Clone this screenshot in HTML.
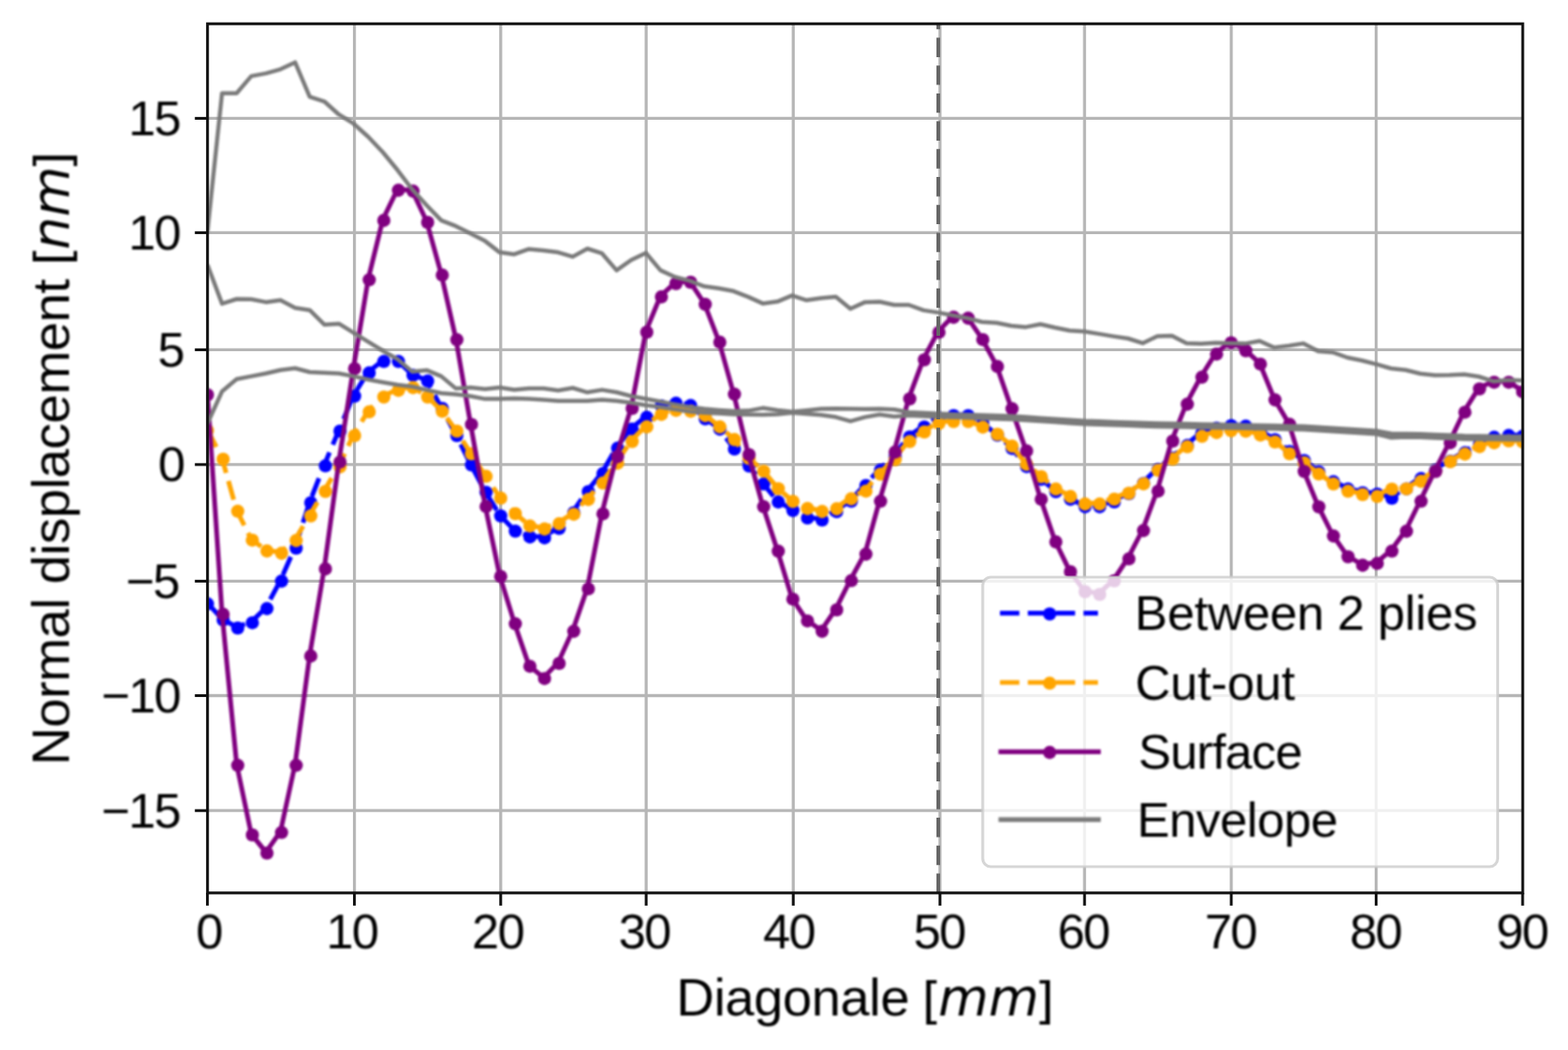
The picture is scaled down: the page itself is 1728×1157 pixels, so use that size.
<!DOCTYPE html>
<html lang="en"><head><meta charset="utf-8"><title>Normal displacement vs Diagonale</title>
<style>html,body{margin:0;padding:0;background:#fff;}body{width:1728px;height:1157px;overflow:hidden;}svg{display:block;}text{font-family:"Liberation Sans",Arial,Helvetica,sans-serif;fill:#000;}</style></head><body>
<svg width="1728" height="1157" viewBox="0 0 1728 1157" role="img" aria-label="Normal displacement versus diagonal position">
<defs><clipPath id="ax"><rect x="228.7" y="26.2" width="1449.4" height="957.7"/></clipPath><filter id="fData" x="220" y="18" width="1468" height="974" filterUnits="userSpaceOnUse" color-interpolation-filters="sRGB"><feGaussianBlur stdDeviation="1"/></filter><filter id="fXt" x="200" y="996" width="1528" height="62" filterUnits="userSpaceOnUse" color-interpolation-filters="sRGB"><feGaussianBlur stdDeviation="1"/></filter><filter id="fYt" x="100" y="96" width="110" height="832" filterUnits="userSpaceOnUse" color-interpolation-filters="sRGB"><feGaussianBlur stdDeviation="1"/></filter><filter id="fXl" x="730" y="1064" width="450" height="84" filterUnits="userSpaceOnUse" color-interpolation-filters="sRGB"><feGaussianBlur stdDeviation="1"/></filter><filter id="fYl" x="20" y="150" width="80" height="710" filterUnits="userSpaceOnUse" color-interpolation-filters="sRGB"><feGaussianBlur stdDeviation="1"/></filter><filter id="fLeg" x="1090" y="642" width="556" height="308" filterUnits="userSpaceOnUse" color-interpolation-filters="sRGB"><feGaussianBlur stdDeviation="1"/></filter></defs>
<rect x="0" y="0" width="1728" height="1157" fill="#fff"/>
<g stroke="#b6b6b6" stroke-width="3.3" fill="none">
<line x1="390.6" y1="26.2" x2="390.6" y2="983.9"/>
<line x1="551.8" y1="26.2" x2="551.8" y2="983.9"/>
<line x1="712.1" y1="26.2" x2="712.1" y2="983.9"/>
<line x1="874.2" y1="26.2" x2="874.2" y2="983.9"/>
<line x1="1035.9" y1="26.2" x2="1035.9" y2="983.9"/>
<line x1="1195.2" y1="26.2" x2="1195.2" y2="983.9"/>
<line x1="1356.9" y1="26.2" x2="1356.9" y2="983.9"/>
<line x1="1516.6" y1="26.2" x2="1516.6" y2="983.9"/>
<line x1="228.7" y1="130.4" x2="1678.1" y2="130.4"/>
<line x1="228.7" y1="256.4" x2="1678.1" y2="256.4"/>
<line x1="228.7" y1="385.4" x2="1678.1" y2="385.4"/>
<line x1="228.7" y1="511.9" x2="1678.1" y2="511.9"/>
<line x1="228.7" y1="640.4" x2="1678.1" y2="640.4"/>
<line x1="228.7" y1="766.5" x2="1678.1" y2="766.5"/>
<line x1="228.7" y1="893.2" x2="1678.1" y2="893.2"/>
</g>
<g filter="url(#fData)"><g clip-path="url(#ax)" fill="none" stroke-linejoin="round">
<polyline points="228.6,664.4 244.7,682.0 260.8,691.0 276.9,685.2 293.0,669.6 309.1,639.4 325.2,603.0 341.3,553.0 357.4,512.3 373.5,474.0 389.6,435.5 405.8,409.8 421.9,397.3 438.0,397.3 454.1,412.5 470.2,418.8 486.3,449.0 502.4,479.0 518.5,511.3 534.6,541.5 550.7,567.5 566.8,584.3 582.9,590.7 599.0,591.7 615.1,581.3 631.2,564.0 647.3,540.7 663.4,520.9 679.5,492.8 695.6,471.9 711.8,458.9 727.9,446.4 744.0,443.3 760.1,445.8 776.2,460.5 792.3,471.9 808.4,493.8 824.5,512.5 840.6,532.3 856.7,552.1 872.8,561.5 888.9,569.8 905.0,572.0 921.1,562.8 937.2,551.3 953.3,534.0 969.4,517.0 985.5,502.0 1001.6,480.5 1017.7,469.5 1033.8,459.6 1050.0,457.0 1066.1,457.0 1082.2,465.7 1098.3,478.5 1114.4,493.1 1130.5,513.2 1146.6,527.2 1162.7,540.8 1178.8,549.1 1194.9,557.4 1211.0,557.4 1227.1,552.0 1243.2,543.0 1259.3,531.7 1275.4,516.3 1291.5,503.8 1307.6,489.8 1323.7,476.3 1339.8,470.7 1356.0,468.0 1372.1,468.6 1388.2,474.4 1404.3,483.5 1420.4,496.5 1436.5,506.5 1452.6,518.8 1468.7,529.8 1484.8,537.8 1500.9,542.0 1517.0,543.5 1533.1,548.0 1549.2,537.7 1565.3,526.4 1581.4,517.0 1597.5,507.2 1613.6,497.9 1629.7,488.1 1645.8,480.9 1661.9,478.8 1678.0,479.9" stroke="#0000ff" stroke-width="5.2" stroke-dasharray="21.4 9.3"/>
<g fill="#0000ff"><circle cx="228.6" cy="665.4" r="7.3"/><circle cx="245.9" cy="683.0" r="7.3"/><circle cx="262.0" cy="692.0" r="7.3"/><circle cx="278.1" cy="686.2" r="7.3"/><circle cx="294.2" cy="670.6" r="7.3"/><circle cx="310.3" cy="640.4" r="7.3"/><circle cx="326.4" cy="604.0" r="7.3"/><circle cx="342.5" cy="554.0" r="7.3"/><circle cx="358.6" cy="513.3" r="7.3"/><circle cx="374.7" cy="475.0" r="7.3"/><circle cx="390.8" cy="436.5" r="7.3"/><circle cx="406.9" cy="410.8" r="7.3"/><circle cx="423.0" cy="398.3" r="7.3"/><circle cx="439.1" cy="398.3" r="7.3"/><circle cx="455.2" cy="413.5" r="7.3"/><circle cx="471.3" cy="419.8" r="7.3"/><circle cx="487.4" cy="450.0" r="7.3"/><circle cx="503.5" cy="480.0" r="7.3"/><circle cx="519.6" cy="512.3" r="7.3"/><circle cx="535.7" cy="542.5" r="7.3"/><circle cx="551.8" cy="568.5" r="7.3"/><circle cx="567.9" cy="585.3" r="7.3"/><circle cx="584.0" cy="591.7" r="7.3"/><circle cx="600.1" cy="592.7" r="7.3"/><circle cx="616.2" cy="582.3" r="7.3"/><circle cx="632.3" cy="565.0" r="7.3"/><circle cx="648.4" cy="541.7" r="7.3"/><circle cx="664.5" cy="521.9" r="7.3"/><circle cx="680.6" cy="493.8" r="7.3"/><circle cx="696.7" cy="472.9" r="7.3"/><circle cx="712.8" cy="459.9" r="7.3"/><circle cx="728.9" cy="447.4" r="7.3"/><circle cx="745.0" cy="444.3" r="7.3"/><circle cx="761.1" cy="446.8" r="7.3"/><circle cx="777.2" cy="461.5" r="7.3"/><circle cx="793.3" cy="472.9" r="7.3"/><circle cx="809.4" cy="494.8" r="7.3"/><circle cx="825.5" cy="513.5" r="7.3"/><circle cx="841.6" cy="533.3" r="7.3"/><circle cx="857.7" cy="553.1" r="7.3"/><circle cx="873.8" cy="562.5" r="7.3"/><circle cx="889.9" cy="570.8" r="7.3"/><circle cx="906.0" cy="573.0" r="7.3"/><circle cx="922.1" cy="563.8" r="7.3"/><circle cx="938.2" cy="552.3" r="7.3"/><circle cx="954.3" cy="535.0" r="7.3"/><circle cx="970.4" cy="518.0" r="7.3"/><circle cx="986.5" cy="503.0" r="7.3"/><circle cx="1002.6" cy="481.5" r="7.3"/><circle cx="1018.7" cy="470.5" r="7.3"/><circle cx="1034.8" cy="460.6" r="7.3"/><circle cx="1050.9" cy="458.0" r="7.3"/><circle cx="1067.0" cy="458.0" r="7.3"/><circle cx="1083.1" cy="466.7" r="7.3"/><circle cx="1099.2" cy="479.5" r="7.3"/><circle cx="1115.3" cy="494.1" r="7.3"/><circle cx="1131.4" cy="514.2" r="7.3"/><circle cx="1147.5" cy="528.2" r="7.3"/><circle cx="1163.6" cy="541.8" r="7.3"/><circle cx="1179.7" cy="550.1" r="7.3"/><circle cx="1195.8" cy="558.4" r="7.3"/><circle cx="1211.9" cy="558.4" r="7.3"/><circle cx="1228.0" cy="553.0" r="7.3"/><circle cx="1244.1" cy="544.0" r="7.3"/><circle cx="1260.2" cy="532.7" r="7.3"/><circle cx="1276.3" cy="517.3" r="7.3"/><circle cx="1292.4" cy="504.8" r="7.3"/><circle cx="1308.5" cy="490.8" r="7.3"/><circle cx="1324.6" cy="477.3" r="7.3"/><circle cx="1340.7" cy="471.7" r="7.3"/><circle cx="1356.8" cy="469.0" r="7.3"/><circle cx="1372.9" cy="469.6" r="7.3"/><circle cx="1389.0" cy="475.4" r="7.3"/><circle cx="1405.1" cy="484.5" r="7.3"/><circle cx="1421.2" cy="497.5" r="7.3"/><circle cx="1437.3" cy="507.5" r="7.3"/><circle cx="1453.4" cy="519.8" r="7.3"/><circle cx="1469.5" cy="530.8" r="7.3"/><circle cx="1485.6" cy="538.8" r="7.3"/><circle cx="1501.7" cy="543.0" r="7.3"/><circle cx="1517.8" cy="544.5" r="7.3"/><circle cx="1533.9" cy="549.0" r="7.3"/><circle cx="1550.0" cy="538.7" r="7.3"/><circle cx="1566.1" cy="527.4" r="7.3"/><circle cx="1582.2" cy="518.0" r="7.3"/><circle cx="1598.3" cy="508.2" r="7.3"/><circle cx="1614.4" cy="498.9" r="7.3"/><circle cx="1630.5" cy="489.1" r="7.3"/><circle cx="1646.6" cy="481.9" r="7.3"/><circle cx="1662.7" cy="479.8" r="7.3"/><circle cx="1678.0" cy="480.9" r="7.3"/></g>
<polyline points="228.6,473.5 244.7,505.0 260.8,562.3 276.9,594.2 293.0,606.1 309.1,608.6 325.2,594.6 341.3,567.5 357.4,540.5 373.5,513.4 389.6,479.0 405.8,452.8 421.9,436.5 438.0,429.2 454.1,426.1 470.2,436.5 486.3,452.1 502.4,474.0 518.5,499.0 534.6,523.8 550.7,547.8 566.8,565.0 582.9,578.6 599.0,581.9 615.1,576.1 631.2,565.7 647.3,549.4 663.4,531.3 679.5,509.4 695.6,485.5 711.8,469.4 727.9,455.7 744.0,451.1 760.1,452.1 776.2,456.9 792.3,469.4 808.4,483.4 824.5,504.2 840.6,518.2 856.7,537.5 872.8,551.5 888.9,559.4 905.0,562.6 921.1,559.6 937.2,548.6 953.3,540.2 969.4,521.5 985.5,505.5 1001.6,485.5 1017.7,475.0 1033.8,465.6 1050.0,463.5 1066.1,463.5 1082.2,469.7 1098.3,477.5 1114.4,490.6 1130.5,510.7 1146.6,524.2 1162.7,537.8 1178.8,546.1 1194.9,554.4 1211.0,554.4 1227.1,549.0 1243.2,542.5 1259.3,532.2 1275.4,517.3 1291.5,504.8 1307.6,491.3 1323.7,479.8 1339.8,475.7 1356.0,473.6 1372.1,474.2 1388.2,478.4 1404.3,486.0 1420.4,499.0 1436.5,509.0 1452.6,521.3 1468.7,532.3 1484.8,540.3 1500.9,544.0 1517.0,546.0 1533.1,538.0 1549.2,537.7 1565.3,529.4 1581.4,518.0 1597.5,507.8 1613.6,499.4 1629.7,491.1 1645.8,486.9 1661.9,484.8 1678.0,485.9" stroke="#ffa500" stroke-width="5.2" stroke-dasharray="21.4 9.3"/>
<g fill="#ffa500"><circle cx="228.6" cy="474.5" r="7.3"/><circle cx="245.9" cy="506.0" r="7.3"/><circle cx="262.0" cy="563.3" r="7.3"/><circle cx="278.1" cy="595.2" r="7.3"/><circle cx="294.2" cy="607.1" r="7.3"/><circle cx="310.3" cy="609.6" r="7.3"/><circle cx="326.4" cy="595.6" r="7.3"/><circle cx="342.5" cy="568.5" r="7.3"/><circle cx="358.6" cy="541.5" r="7.3"/><circle cx="374.7" cy="514.4" r="7.3"/><circle cx="390.8" cy="480.0" r="7.3"/><circle cx="406.9" cy="453.8" r="7.3"/><circle cx="423.0" cy="437.5" r="7.3"/><circle cx="439.1" cy="430.2" r="7.3"/><circle cx="455.2" cy="427.1" r="7.3"/><circle cx="471.3" cy="437.5" r="7.3"/><circle cx="487.4" cy="453.1" r="7.3"/><circle cx="503.5" cy="475.0" r="7.3"/><circle cx="519.6" cy="500.0" r="7.3"/><circle cx="535.7" cy="524.8" r="7.3"/><circle cx="551.8" cy="548.8" r="7.3"/><circle cx="567.9" cy="566.0" r="7.3"/><circle cx="584.0" cy="579.6" r="7.3"/><circle cx="600.1" cy="582.9" r="7.3"/><circle cx="616.2" cy="577.1" r="7.3"/><circle cx="632.3" cy="566.7" r="7.3"/><circle cx="648.4" cy="550.4" r="7.3"/><circle cx="664.5" cy="532.3" r="7.3"/><circle cx="680.6" cy="510.4" r="7.3"/><circle cx="696.7" cy="486.5" r="7.3"/><circle cx="712.8" cy="470.4" r="7.3"/><circle cx="728.9" cy="456.7" r="7.3"/><circle cx="745.0" cy="452.1" r="7.3"/><circle cx="761.1" cy="453.1" r="7.3"/><circle cx="777.2" cy="457.9" r="7.3"/><circle cx="793.3" cy="470.4" r="7.3"/><circle cx="809.4" cy="484.4" r="7.3"/><circle cx="825.5" cy="505.2" r="7.3"/><circle cx="841.6" cy="519.2" r="7.3"/><circle cx="857.7" cy="538.5" r="7.3"/><circle cx="873.8" cy="552.5" r="7.3"/><circle cx="889.9" cy="560.4" r="7.3"/><circle cx="906.0" cy="563.6" r="7.3"/><circle cx="922.1" cy="560.6" r="7.3"/><circle cx="938.2" cy="549.6" r="7.3"/><circle cx="954.3" cy="541.2" r="7.3"/><circle cx="970.4" cy="522.5" r="7.3"/><circle cx="986.5" cy="506.5" r="7.3"/><circle cx="1002.6" cy="486.5" r="7.3"/><circle cx="1018.7" cy="476.0" r="7.3"/><circle cx="1034.8" cy="466.6" r="7.3"/><circle cx="1050.9" cy="464.5" r="7.3"/><circle cx="1067.0" cy="464.5" r="7.3"/><circle cx="1083.1" cy="470.7" r="7.3"/><circle cx="1099.2" cy="478.5" r="7.3"/><circle cx="1115.3" cy="491.6" r="7.3"/><circle cx="1131.4" cy="511.7" r="7.3"/><circle cx="1147.5" cy="525.2" r="7.3"/><circle cx="1163.6" cy="538.8" r="7.3"/><circle cx="1179.7" cy="547.1" r="7.3"/><circle cx="1195.8" cy="555.4" r="7.3"/><circle cx="1211.9" cy="555.4" r="7.3"/><circle cx="1228.0" cy="550.0" r="7.3"/><circle cx="1244.1" cy="543.5" r="7.3"/><circle cx="1260.2" cy="533.2" r="7.3"/><circle cx="1276.3" cy="518.3" r="7.3"/><circle cx="1292.4" cy="505.8" r="7.3"/><circle cx="1308.5" cy="492.3" r="7.3"/><circle cx="1324.6" cy="480.8" r="7.3"/><circle cx="1340.7" cy="476.7" r="7.3"/><circle cx="1356.8" cy="474.6" r="7.3"/><circle cx="1372.9" cy="475.2" r="7.3"/><circle cx="1389.0" cy="479.4" r="7.3"/><circle cx="1405.1" cy="487.0" r="7.3"/><circle cx="1421.2" cy="500.0" r="7.3"/><circle cx="1437.3" cy="510.0" r="7.3"/><circle cx="1453.4" cy="522.3" r="7.3"/><circle cx="1469.5" cy="533.3" r="7.3"/><circle cx="1485.6" cy="541.3" r="7.3"/><circle cx="1501.7" cy="545.0" r="7.3"/><circle cx="1517.8" cy="547.0" r="7.3"/><circle cx="1533.9" cy="539.0" r="7.3"/><circle cx="1550.0" cy="538.7" r="7.3"/><circle cx="1566.1" cy="530.4" r="7.3"/><circle cx="1582.2" cy="519.0" r="7.3"/><circle cx="1598.3" cy="508.8" r="7.3"/><circle cx="1614.4" cy="500.4" r="7.3"/><circle cx="1630.5" cy="492.1" r="7.3"/><circle cx="1646.6" cy="487.9" r="7.3"/><circle cx="1662.7" cy="485.8" r="7.3"/><circle cx="1678.0" cy="486.9" r="7.3"/></g>
<polyline points="228.6,434.0 244.7,675.9 260.8,842.3 276.9,919.0 293.0,939.0 309.1,916.3 325.2,842.3 341.3,721.9 357.4,625.9 373.5,508.2 389.6,405.2 405.8,307.3 421.9,241.9 438.0,208.6 454.1,209.6 470.2,244.0 486.3,302.1 502.4,373.4 518.5,466.7 534.6,557.1 550.7,634.2 566.8,686.3 582.9,733.2 599.0,746.7 615.1,730.0 631.2,694.6 647.3,647.8 663.4,565.2 679.5,502.1 695.6,449.0 711.8,365.0 727.9,326.1 744.0,311.5 760.1,310.0 776.2,334.4 792.3,376.1 808.4,433.4 824.5,500.0 840.6,557.3 856.7,606.4 872.8,659.2 888.9,683.2 905.0,694.6 921.1,671.0 937.2,638.8 953.3,609.6 969.4,551.3 985.5,497.1 1001.6,438.5 1017.7,395.5 1033.8,365.2 1050.0,348.6 1066.1,349.6 1082.2,373.2 1098.3,402.8 1114.4,449.4 1130.5,495.8 1146.6,549.2 1162.7,596.1 1178.8,629.0 1194.9,651.0 1211.0,654.0 1227.1,639.0 1243.2,614.8 1259.3,583.6 1275.4,540.2 1291.5,485.0 1307.6,444.4 1323.7,414.6 1339.8,389.2 1356.0,376.7 1372.1,385.5 1388.2,400.2 1404.3,439.6 1420.4,466.6 1436.5,518.5 1452.6,557.5 1468.7,589.6 1484.8,612.5 1500.9,621.9 1517.0,619.8 1533.1,606.3 1549.2,584.4 1565.3,551.3 1581.4,518.5 1597.5,486.9 1613.6,453.2 1629.7,427.5 1645.8,420.2 1661.9,420.2 1678.0,430.7" stroke="#800080" stroke-width="5.2"/>
<g fill="#800080"><circle cx="228.6" cy="435.0" r="7.3"/><circle cx="245.9" cy="676.9" r="7.3"/><circle cx="262.0" cy="843.3" r="7.3"/><circle cx="278.1" cy="920.0" r="7.3"/><circle cx="294.2" cy="940.0" r="7.3"/><circle cx="310.3" cy="917.3" r="7.3"/><circle cx="326.4" cy="843.3" r="7.3"/><circle cx="342.5" cy="722.9" r="7.3"/><circle cx="358.6" cy="626.9" r="7.3"/><circle cx="374.7" cy="509.2" r="7.3"/><circle cx="390.8" cy="406.2" r="7.3"/><circle cx="406.9" cy="308.3" r="7.3"/><circle cx="423.0" cy="242.9" r="7.3"/><circle cx="439.1" cy="209.6" r="7.3"/><circle cx="455.2" cy="210.6" r="7.3"/><circle cx="471.3" cy="245.0" r="7.3"/><circle cx="487.4" cy="303.1" r="7.3"/><circle cx="503.5" cy="374.4" r="7.3"/><circle cx="519.6" cy="467.7" r="7.3"/><circle cx="535.7" cy="558.1" r="7.3"/><circle cx="551.8" cy="635.2" r="7.3"/><circle cx="567.9" cy="687.3" r="7.3"/><circle cx="584.0" cy="734.2" r="7.3"/><circle cx="600.1" cy="747.7" r="7.3"/><circle cx="616.2" cy="731.0" r="7.3"/><circle cx="632.3" cy="695.6" r="7.3"/><circle cx="648.4" cy="648.8" r="7.3"/><circle cx="664.5" cy="566.2" r="7.3"/><circle cx="680.6" cy="503.1" r="7.3"/><circle cx="696.7" cy="450.0" r="7.3"/><circle cx="712.8" cy="366.0" r="7.3"/><circle cx="728.9" cy="327.1" r="7.3"/><circle cx="745.0" cy="312.5" r="7.3"/><circle cx="761.1" cy="311.0" r="7.3"/><circle cx="777.2" cy="335.4" r="7.3"/><circle cx="793.3" cy="377.1" r="7.3"/><circle cx="809.4" cy="434.4" r="7.3"/><circle cx="825.5" cy="501.0" r="7.3"/><circle cx="841.6" cy="558.3" r="7.3"/><circle cx="857.7" cy="607.4" r="7.3"/><circle cx="873.8" cy="660.2" r="7.3"/><circle cx="889.9" cy="684.2" r="7.3"/><circle cx="906.0" cy="695.6" r="7.3"/><circle cx="922.1" cy="672.0" r="7.3"/><circle cx="938.2" cy="639.8" r="7.3"/><circle cx="954.3" cy="610.6" r="7.3"/><circle cx="970.4" cy="552.3" r="7.3"/><circle cx="986.5" cy="498.1" r="7.3"/><circle cx="1002.6" cy="439.5" r="7.3"/><circle cx="1018.7" cy="396.5" r="7.3"/><circle cx="1034.8" cy="366.2" r="7.3"/><circle cx="1050.9" cy="349.6" r="7.3"/><circle cx="1067.0" cy="350.6" r="7.3"/><circle cx="1083.1" cy="374.2" r="7.3"/><circle cx="1099.2" cy="403.8" r="7.3"/><circle cx="1115.3" cy="450.4" r="7.3"/><circle cx="1131.4" cy="496.8" r="7.3"/><circle cx="1147.5" cy="550.2" r="7.3"/><circle cx="1163.6" cy="597.1" r="7.3"/><circle cx="1179.7" cy="630.0" r="7.3"/><circle cx="1195.8" cy="652.0" r="7.3"/><circle cx="1211.9" cy="655.0" r="7.3"/><circle cx="1228.0" cy="640.0" r="7.3"/><circle cx="1244.1" cy="615.8" r="7.3"/><circle cx="1260.2" cy="584.6" r="7.3"/><circle cx="1276.3" cy="541.2" r="7.3"/><circle cx="1292.4" cy="486.0" r="7.3"/><circle cx="1308.5" cy="445.4" r="7.3"/><circle cx="1324.6" cy="415.6" r="7.3"/><circle cx="1340.7" cy="390.2" r="7.3"/><circle cx="1356.8" cy="377.7" r="7.3"/><circle cx="1372.9" cy="386.5" r="7.3"/><circle cx="1389.0" cy="401.2" r="7.3"/><circle cx="1405.1" cy="440.6" r="7.3"/><circle cx="1421.2" cy="467.6" r="7.3"/><circle cx="1437.3" cy="519.5" r="7.3"/><circle cx="1453.4" cy="558.5" r="7.3"/><circle cx="1469.5" cy="590.6" r="7.3"/><circle cx="1485.6" cy="613.5" r="7.3"/><circle cx="1501.7" cy="622.9" r="7.3"/><circle cx="1517.8" cy="620.8" r="7.3"/><circle cx="1533.9" cy="607.3" r="7.3"/><circle cx="1550.0" cy="585.4" r="7.3"/><circle cx="1566.1" cy="552.3" r="7.3"/><circle cx="1582.2" cy="519.5" r="7.3"/><circle cx="1598.3" cy="487.9" r="7.3"/><circle cx="1614.4" cy="454.2" r="7.3"/><circle cx="1630.5" cy="428.5" r="7.3"/><circle cx="1646.6" cy="421.2" r="7.3"/><circle cx="1662.7" cy="421.2" r="7.3"/><circle cx="1678.0" cy="431.7" r="7.3"/></g>
<polyline points="228.6,255.0 244.7,102.7 260.8,102.8 276.9,83.9 293.0,80.9 309.1,76.3 325.2,68.7 341.3,106.6 357.4,111.8 373.5,126.2 389.6,136.2 405.8,150.7 421.9,167.7 438.0,187.3 454.1,208.5 470.2,226.2 486.3,242.9 502.4,249.2 518.5,257.2 534.6,265.6 550.7,278.1 566.8,280.2 582.9,274.4 599.0,276.0 615.1,278.1 631.2,282.9 647.3,274.0 663.4,279.2 679.5,297.9 695.6,286.5 711.8,278.8 727.9,297.9 744.0,305.2 760.1,309.4 776.2,315.6 792.3,317.7 808.4,320.8 824.5,327.1 840.6,334.4 856.7,332.3 872.8,325.6 888.9,330.8 905.0,328.4 921.1,327.1 937.2,340.2 953.3,332.9 969.4,332.5 985.5,336.0 1001.6,336.0 1017.7,341.9 1033.8,344.4 1050.0,347.5 1066.1,350.6 1082.2,354.8 1098.3,355.8 1114.4,359.0 1130.5,360.4 1146.6,357.3 1162.7,361.0 1178.8,364.2 1194.9,365.2 1211.0,367.9 1227.1,370.6 1243.2,373.0 1259.3,378.2 1275.4,370.4 1291.5,370.0 1307.6,378.3 1323.7,378.8 1339.8,377.7 1356.0,378.3 1372.1,378.6 1388.2,375.7 1404.3,383.1 1420.4,381.0 1436.5,378.4 1452.6,387.0 1468.7,388.2 1484.8,394.0 1500.9,397.2 1517.0,401.4 1533.1,406.0 1549.2,407.8 1565.3,411.7 1581.4,413.5 1597.5,413.3 1613.6,412.5 1629.7,415.0 1645.8,420.2 1661.9,418.8 1678.0,419.2" stroke="#7a7a7a" stroke-width="4.5"/>
<polyline points="228.6,291.7 244.7,334.6 260.8,329.5 276.9,329.8 293.0,332.9 309.1,330.8 325.2,339.2 341.3,341.7 357.4,357.7 373.5,356.7 389.6,366.7 405.8,376.7 421.9,386.5 438.0,395.8 454.1,409.4 470.2,407.9 486.3,414.6 502.4,428.1 518.5,427.1 534.6,428.8 550.7,427.0 566.8,429.5 582.9,428.1 599.0,428.1 615.1,430.2 631.2,427.5 647.3,432.3 663.4,429.6 679.5,432.3 695.6,436.5 711.8,439.5 727.9,442.5 744.0,445.6 760.1,448.4 776.2,450.6 792.3,451.9 808.4,453.0 824.5,452.6 840.6,449.6 856.7,451.9 872.8,453.8 888.9,452.2 905.0,450.6 921.1,450.3 937.2,450.6 953.3,450.8 969.4,450.6 985.5,451.2 1001.6,454.3 1017.7,455.1 1033.8,455.8 1050.0,456.4 1066.1,456.9 1082.2,457.5 1098.3,458.0 1114.4,458.6 1130.5,459.6 1146.6,460.7 1162.7,461.7 1178.8,462.8 1194.9,463.8 1211.0,464.3 1227.1,464.9 1243.2,465.4 1259.3,466.0 1275.4,466.5 1291.5,466.8 1307.6,467.1 1323.7,467.5 1339.8,467.8 1356.0,468.1 1372.1,468.4 1388.2,468.8 1404.3,469.1 1420.4,469.5 1436.5,469.8 1452.6,470.8 1468.7,471.8 1484.8,472.8 1500.9,473.8 1517.0,474.8 1533.1,477.8 1549.2,478.1 1565.3,478.3 1581.4,479.0 1597.5,479.6 1613.6,480.3 1629.7,480.5 1645.8,480.7 1661.9,480.9 1678.0,481.1" stroke="#7a7a7a" stroke-width="4.5"/>
<polyline points="228.6,466.7 244.7,431.2 260.8,417.7 276.9,414.6 293.0,411.5 309.1,407.7 325.2,405.8 341.3,410.0 357.4,410.8 373.5,411.5 389.6,414.6 405.8,418.3 421.9,421.2 438.0,424.0 454.1,426.0 470.2,429.6 486.3,433.3 502.4,434.4 518.5,436.5 534.6,439.6 550.7,439.6 566.8,439.0 582.9,439.6 599.0,440.6 615.1,441.7 631.2,441.7 647.3,441.7 663.4,440.6 679.5,441.7 695.6,443.8 711.8,446.5 727.9,448.5 744.0,451.0 760.1,453.5 776.2,454.7 792.3,455.4 808.4,456.5 824.5,456.8 840.6,457.0 856.7,456.4 872.8,454.7 888.9,456.1 905.0,457.2 921.1,459.6 937.2,464.2 953.3,459.6 969.4,456.8 985.5,458.9 1001.6,457.7 1017.7,458.4 1033.8,459.2 1050.0,459.8 1066.1,460.3 1082.2,460.9 1098.3,461.4 1114.4,462.0 1130.5,463.0 1146.6,464.1 1162.7,465.1 1178.8,466.2 1194.9,467.2 1211.0,467.7 1227.1,468.3 1243.2,468.8 1259.3,469.4 1275.4,469.9 1291.5,470.2 1307.6,470.5 1323.7,470.9 1339.8,471.2 1356.0,471.5 1372.1,471.8 1388.2,472.2 1404.3,472.5 1420.4,472.9 1436.5,473.2 1452.6,474.2 1468.7,475.2 1484.8,476.2 1500.9,477.2 1517.0,478.2 1533.1,482.2 1549.2,481.4 1565.3,481.7 1581.4,482.4 1597.5,483.0 1613.6,483.7 1629.7,483.9 1645.8,484.1 1661.9,484.3 1678.0,484.5" stroke="#7a7a7a" stroke-width="4.5"/>
</g></g>
<line x1="1034" y1="983.9" x2="1034" y2="26.2" stroke="#666666" stroke-width="4.0" stroke-dasharray="21.4 9.3"/>
<rect x="228.7" y="26.2" width="1449.4" height="957.7" fill="none" stroke="#111111" stroke-width="3.1"/>
<g stroke="#111111" stroke-width="3.1">
<line x1="228.6" y1="983.9" x2="228.6" y2="997.9"/>
<line x1="390.6" y1="983.9" x2="390.6" y2="997.9"/>
<line x1="551.8" y1="983.9" x2="551.8" y2="997.9"/>
<line x1="712.1" y1="983.9" x2="712.1" y2="997.9"/>
<line x1="874.2" y1="983.9" x2="874.2" y2="997.9"/>
<line x1="1035.9" y1="983.9" x2="1035.9" y2="997.9"/>
<line x1="1195.2" y1="983.9" x2="1195.2" y2="997.9"/>
<line x1="1356.9" y1="983.9" x2="1356.9" y2="997.9"/>
<line x1="1516.6" y1="983.9" x2="1516.6" y2="997.9"/>
<line x1="1678.0" y1="983.9" x2="1678.0" y2="997.9"/>
<line x1="228.7" y1="130.4" x2="214.7" y2="130.4"/>
<line x1="228.7" y1="256.4" x2="214.7" y2="256.4"/>
<line x1="228.7" y1="385.4" x2="214.7" y2="385.4"/>
<line x1="228.7" y1="511.9" x2="214.7" y2="511.9"/>
<line x1="228.7" y1="640.4" x2="214.7" y2="640.4"/>
<line x1="228.7" y1="766.5" x2="214.7" y2="766.5"/>
<line x1="228.7" y1="893.2" x2="214.7" y2="893.2"/>
</g>
<g filter="url(#fXt)" font-size="54.1px" letter-spacing="-1.8">
<text transform="translate(230.1,1044.7) scale(1.0,1.0)" text-anchor="middle">0</text>
<text transform="translate(387.7,1044.7) scale(1.0,1.0)" text-anchor="middle">10</text>
<text transform="translate(548.4,1044.7) scale(1.0,1.0)" text-anchor="middle">20</text>
<text transform="translate(710.0,1044.7) scale(1.0,1.0)" text-anchor="middle">30</text>
<text transform="translate(869.2,1044.7) scale(1.0,1.0)" text-anchor="middle">40</text>
<text transform="translate(1035.1,1044.7) scale(1.0,1.0)" text-anchor="middle">50</text>
<text transform="translate(1193.7,1044.7) scale(1.0,1.0)" text-anchor="middle">60</text>
<text transform="translate(1356.1,1044.7) scale(1.0,1.0)" text-anchor="middle">70</text>
<text transform="translate(1515.8,1044.7) scale(1.0,1.0)" text-anchor="middle">80</text>
<text transform="translate(1677.2,1044.7) scale(1.0,1.0)" text-anchor="middle">90</text>
</g>
<g filter="url(#fYt)" font-size="54.1px" letter-spacing="-1.8">
<text transform="translate(198.0,148.8) scale(1.0,1.0)" text-anchor="end">15</text>
<text transform="translate(198.0,274.8) scale(1.0,1.0)" text-anchor="end">10</text>
<text transform="translate(202.0,403.8) scale(1.0,1.0)" text-anchor="end">5</text>
<text transform="translate(202.5,530.3) scale(1.0,1.0)" text-anchor="end">0</text>
<text transform="translate(196.8,658.8) scale(1.0,1.0)" text-anchor="end">−5</text>
<text transform="translate(198.0,784.9) scale(1.0,1.0)" text-anchor="end">−10</text>
<text transform="translate(198.0,911.6) scale(1.0,1.0)" text-anchor="end">−15</text>
</g>
<g filter="url(#fXl)"><g font-size="57.0px"><text transform="translate(0,1119.2) translate(745.3,0)" font-size="58.0px" letter-spacing="-0.5">Diagonale </text><text transform="translate(0,1119.2)" style="font-family:'DejaVu Sans',sans-serif"><tspan x="1016.0" dy="2.5" font-size="55.4px">[</tspan><tspan x="1034.1" dy="-2.5" font-style="italic">mm</tspan><tspan x="1140.2" dy="2.5" font-size="55.4px">]</tspan></text></g></g>
<g filter="url(#fYl)"><g font-size="57.0px"><text transform="translate(75.8,0) rotate(-90) translate(-843.2,0)" font-size="58.0px" letter-spacing="-0.5">Normal displacement </text><text transform="translate(75.8,0) rotate(-90)" style="font-family:'DejaVu Sans',sans-serif"><tspan x="-292.8" dy="2.5" font-size="55.4px">[</tspan><tspan x="-275.0" dy="-2.5" font-style="italic">nm</tspan><tspan x="-188.3" dy="2.5" font-size="55.4px">]</tspan></text></g></g>
<rect x="1083" y="636" width="567.5" height="319" rx="9" ry="9" fill="#fff" fill-opacity="0.8" stroke="#cccccc" stroke-opacity="0.8" stroke-width="3.2"/>
<g filter="url(#fLeg)">
<line x1="1102" y1="675.7" x2="1210" y2="675.7" stroke="#0000ff" stroke-width="5.2" stroke-dasharray="21.4 9.3"/>
<circle cx="1156.8" cy="676.5" r="7.3" fill="#0000ff"/>
<text transform="translate(1250.6,694.2) scale(1.0,1.0)" text-anchor="start" font-size="54.1px" letter-spacing="-0.3">Between 2 plies</text>
<line x1="1102" y1="752.0" x2="1210" y2="752.0" stroke="#ffa500" stroke-width="5.2" stroke-dasharray="21.4 9.3"/>
<circle cx="1156.8" cy="752.8" r="7.3" fill="#ffa500"/>
<text transform="translate(1251.0,770.5) scale(1.0,1.0)" text-anchor="start" font-size="54.1px" letter-spacing="-0.2">Cut-out</text>
<line x1="1103" y1="828.3" x2="1210.5" y2="828.3" stroke="#800080" stroke-width="5.2" stroke-linecap="square"/>
<circle cx="1156.8" cy="829.1" r="7.3" fill="#800080"/>
<text transform="translate(1254.5,846.8) scale(1.0,1.0)" text-anchor="start" font-size="54.1px" letter-spacing="-0.9">Surface</text>
<line x1="1103" y1="903.2" x2="1210.5" y2="903.2" stroke="#7a7a7a" stroke-width="5.2" stroke-linecap="square"/>
<text transform="translate(1253.1,921.7) scale(1.0,1.0)" text-anchor="start" font-size="54.1px" letter-spacing="-0.6">Envelope</text>
</g>
</svg></body></html>
